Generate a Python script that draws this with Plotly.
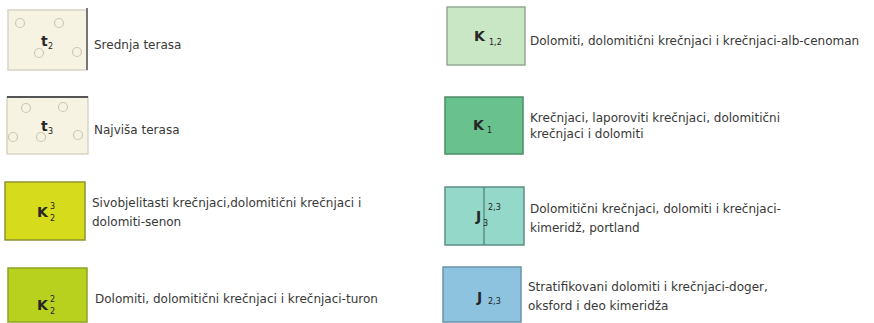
"""
Legenda geoloske karte - plotly recreation
"""

import plotly.graph_objects as go

# legend content
codes = ["t", "t", "K", "K", "K", "K", "J", "J"]
sups = ["", "", "3", "2", "", "", "2,3", ""]
subs = ["2", "3", "2", "2", "1,2", "1", "3", "2,3"]
descriptions = [
    ["Srednja terasa"],
    ["Najviša terasa"],
    ["Sivobjelitasti krečnjaci,dolomitični krečnjaci i", "dolomiti-senon"],
    ["Dolomiti, dolomitični krečnjaci i krečnjaci-turon"],
    ["Dolomiti, dolomitični krečnjaci i krečnjaci-alb-cenoman"],
    ["Krečnjaci, laporoviti krečnjaci, dolomitični", "krečnjaci i dolomiti"],
    ["Dolomitični krečnjaci, dolomiti i krečnjaci-", "kimeridž, portland"],
    ["Stratifikovani dolomiti i krečnjaci-doger,", "oksford i deo kimeridža"],
]

# layout (pixel space of the legend sheet)
BOXES = [
    (8, 10, 87, 70), (7, 97, 88, 154), (5, 182, 85, 240), (8, 268, 87, 322),
    (447, 7, 525, 65), (445, 97, 523, 154), (445, 187, 524, 245), (443, 267, 521, 322),
]
FILLS = ["#f7f3e2", "#f7f3e2", "#d6dc1c", "#b8d01e",
         "#c9e7c5", "#69c28e", "#93d8c8", "#8ec3e0"]
EDGES = ["#d9d5c5", "#d9d5c5", "#8e9230", "#8da428",
         "#94ab94", "#4f8c68", "#5d8f86", "#6a92aa"]
TEXT_X = [92, 92, 90, 93, 528, 528, 528, 526]
TEXT_Y = [[45], [130], [203, 222], [299], [41], [118, 134], [209, 228], [287, 306]]
LETTER_XY = [(44, 41), (44, 126), (43, 212), (43, 305),
             (480, 36), (479, 125), (478, 216), (479, 297)]
SUP_XY = [None, None, (52, 206), (52, 299), None, None, (486, 207), None]
SUB_XY = [(50, 46), (50, 131), (52, 218), (52, 311),
          (487, 42), (489, 130), (485, 223), (486, 301)]

# gravel circles on the terrace boxes
circle_x = [20, 59, 39, 77, 26, 63, 13, 78, 41]
circle_y = [23, 23, 53, 52, 108, 107, 137, 135, 137]

TEXT_FONT = dict(family="DejaVu Sans", size=12, color="#383838")
IDX_FONT = dict(family="DejaVu Sans", size=8, color="#222222")

fig = go.Figure()

fig.add_trace(go.Scatter(
    x=circle_x, y=circle_y, mode="markers", hoverinfo="skip",
    marker=dict(symbol="circle-open", size=9, color="#cdc8b4",
                line=dict(width=1.2)),
))

shapes = []
for (x0, y0, x1, y1), fill, edge in zip(BOXES, FILLS, EDGES):
    shapes.append(dict(type="rect", x0=x0, y0=y0, x1=x1, y1=y1,
                       fillcolor=fill, line=dict(color=edge, width=1.5),
                       layer="below"))

# darker edges / divider lines seen on the original
shapes.append(dict(type="line", x0=87, y0=8, x1=87, y1=70,
                   line=dict(color="#555555", width=1.5)))
shapes.append(dict(type="line", x0=7, y0=97, x1=88, y1=97,
                   line=dict(color="#555555", width=2)))
shapes.append(dict(type="line", x0=484, y0=187, x1=484, y1=245,
                   line=dict(color="#4f7c74", width=1.2)))

annotations = []
for i, code in enumerate(codes):
    lx, ly = LETTER_XY[i]
    annotations.append(dict(x=lx, y=ly, text="<b>" + code + "</b>", showarrow=False,
                            font=dict(family="DejaVu Sans", size=14, color="#262626")))
    sx, sy = SUB_XY[i]
    annotations.append(dict(x=sx, y=sy, text=subs[i], showarrow=False,
                            xanchor="left" if len(subs[i]) > 1 else "center",
                            font=IDX_FONT))
    if sups[i]:
        px_, py_ = SUP_XY[i]
        annotations.append(dict(x=px_, y=py_, text=sups[i], showarrow=False,
                                xanchor="left" if len(sups[i]) > 1 else "center",
                                font=IDX_FONT))
    for line, ty in zip(descriptions[i], TEXT_Y[i]):
        annotations.append(dict(x=TEXT_X[i], y=ty, text=line, showarrow=False,
                                xanchor="left", yanchor="middle", font=TEXT_FONT))

fig.update_layout(
    width=874, height=323,
    margin=dict(l=0, r=0, t=0, b=0),
    paper_bgcolor="white", plot_bgcolor="white",
    showlegend=False,
    xaxis=dict(range=[0, 874], visible=False, fixedrange=True),
    yaxis=dict(range=[323, 0], visible=False, fixedrange=True),
    shapes=shapes,
    annotations=annotations,
)

# page body has a default 8px margin; drop it so the sheet sits at 0,0
fig.write_html("out.html", config={"displayModeBar": False},
               post_script="document.body.style.margin='0';")
